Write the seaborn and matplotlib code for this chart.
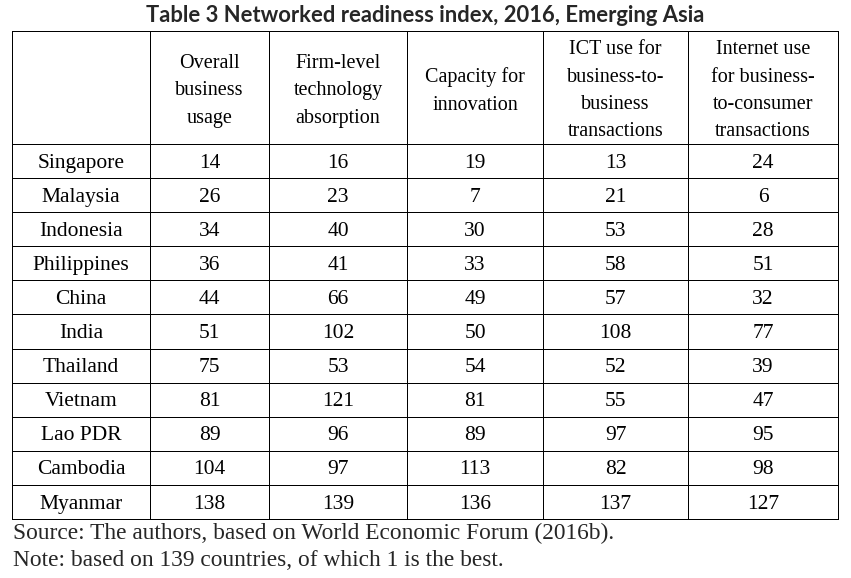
import numpy as np
import matplotlib
matplotlib.use('Agg')
import matplotlib.pyplot as plt
import seaborn as sns
from matplotlib.colors import ListedColormap

sns.set_style('white')
plt.rcParams['font.family'] = ['Liberation Serif', 'DejaVu Serif']

# --- dados da tabela ---
headers = [
    '',
    'Overall\nbusiness\nusage',
    'Firm-level\ntechnology\nabsorption',
    'Capacity for\ninnovation',
    'ICT use for\nbusiness-to-\nbusiness\ntransactions',
    'Internet use\nfor business-\nto-consumer\ntransactions',
]
countries = ['Singapore', 'Malaysia', 'Indonesia', 'Philippines', 'China', 'India',
             'Thailand', 'Vietnam', 'Lao PDR', 'Cambodia', 'Myanmar']
overall_usage = [14, 26, 34, 36, 44, 51, 75, 81, 89, 104, 138]
firm_absorption = [16, 23, 40, 41, 66, 102, 53, 121, 96, 97, 139]
capacity_innovation = [19, 7, 30, 33, 49, 50, 54, 81, 89, 113, 136]
ict_b2b = [13, 21, 53, 58, 57, 108, 52, 55, 97, 82, 137]
internet_b2c = [24, 6, 28, 51, 32, 77, 39, 47, 95, 98, 127]

title = 'Table 3 Networked readiness index, 2016, Emerging Asia'
source = 'Source: The authors, based on World Economic Forum (2016b).'
note = 'Note: based on 139 countries, of which 1 is the best.'

columns = [countries, overall_usage, firm_absorption, capacity_innovation, ict_b2b, internet_b2c]

# --- layout (pixels) ---
W, H = 851, 578
col_edges = [12, 150, 269, 407, 543, 688, 838]
top, head_bot, bottom = 31, 144, 519

fig = plt.figure(figsize=(W / 100, H / 100), dpi=100)
white = ListedColormap(['white'])
lw = 0.72


def cell_axes(x0, x1, y0, y1):
    return fig.add_axes([x0 / W, 1 - y1 / H, (x1 - x0) / W, (y1 - y0) / H])


def style_spines(ax):
    for s in ax.spines.values():
        s.set_visible(True)
        s.set_color('black')
        s.set_linewidth(lw)


def nudge_texts(ax, dy):
    # eixo y do heatmap é invertido: somar desloca para baixo
    for t in ax.texts:
        x, y = t.get_position()
        t.set_position((x, y + dy))


for j, col in enumerate(columns):
    x0, x1 = col_edges[j], col_edges[j + 1]

    # cabeçalho
    ax_h = cell_axes(x0, x1, top, head_bot)
    sns.heatmap(np.zeros((1, 1)), annot=np.array([[headers[j]]]), fmt='', cmap=white,
                cbar=False, ax=ax_h, xticklabels=False, yticklabels=False,
                annot_kws={'fontsize': 14.5, 'color': 'black', 'linespacing': 1.6})
    nudge_texts(ax_h, 0.03)
    style_spines(ax_h)

    # corpo
    ax_b = cell_axes(x0, x1, head_bot, bottom)
    if j == 0:
        data = np.zeros((len(col), 1))
        annot = np.array(col).reshape(-1, 1)
        fmt = ''
    else:
        data = np.array(col).reshape(-1, 1)
        annot = True
        fmt = 'd'
    sns.heatmap(data, annot=annot, fmt=fmt, cmap=white, cbar=False, ax=ax_b,
                xticklabels=False, yticklabels=False, linewidths=lw, linecolor='black',
                annot_kws={'fontsize': 15.5, 'color': 'black'})
    nudge_texts(ax_b, 0.06)
    style_spines(ax_b)

fig.text(425 / W, 1 - 15 / H, title, ha='center', va='center',
         family=['Lato', 'DejaVu Sans'], fontweight='bold', fontsize=15.8)
fig.text(13 / W, 1 - 533 / H, source, ha='left', va='center', fontsize=16.8)
fig.text(13 / W, 1 - 561 / H, note, ha='left', va='center', fontsize=16.8)

plt.savefig('out.png', dpi=100)
plt.close()
